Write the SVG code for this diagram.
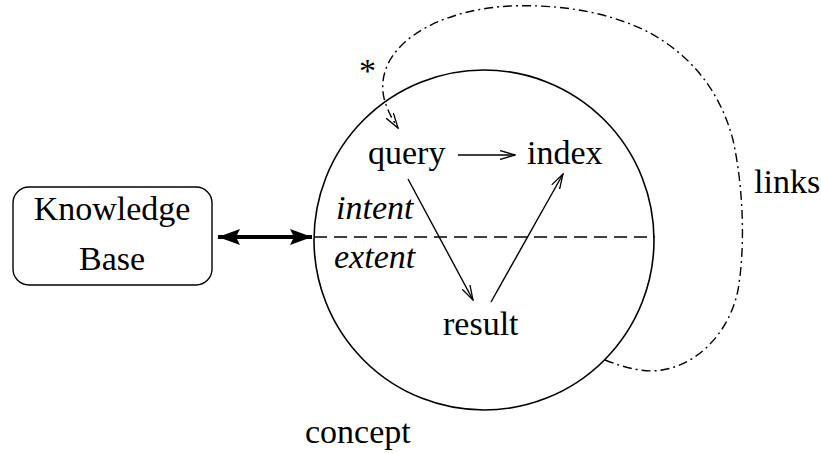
<svg xmlns="http://www.w3.org/2000/svg" width="821" height="453" viewBox="0 0 821 453">
<style>
.t{font-family:'Liberation Serif','Times New Roman',Times,'DejaVu Serif',serif;font-size:34px;fill:#000}
.it{font-style:italic}
.ln{fill:none;stroke:#000;stroke-width:1.4}
</style>
<defs>
<marker id="open" viewBox="0 0 16 10" refX="15" refY="5" markerWidth="16" markerHeight="10" markerUnits="userSpaceOnUse" orient="auto">
<path d="M0,0.5 L15,5 L0,9.5" fill="none" stroke="#000" stroke-width="1.3"/>
</marker>
<marker id="solid" viewBox="0 0 22 16" refX="22" refY="8" markerWidth="22" markerHeight="16" markerUnits="userSpaceOnUse" orient="auto-start-reverse">
<path d="M0,0 L22,8 L0,16 L4,8 Z" fill="#000"/>
</marker>
</defs>
<rect width="821" height="453" fill="#fff"/>
<g id="concept" font-family="Liberation Serif, serif">
<circle cx="484" cy="240" r="170" fill="none" stroke="#000" stroke-width="1.6"/>
<line x1="314" y1="237" x2="655" y2="237" stroke="#000" stroke-width="1.4" stroke-dasharray="13,7"/>
<text class="t" x="305" y="443">concept</text>
<text class="t it" x="336" y="219">intent</text>
<text class="t it" x="334" y="268">extent</text>
</g>
<g id="kb" font-family="Liberation Serif, serif">
<rect x="13" y="187" width="199" height="98" rx="16" fill="none" stroke="#000" stroke-width="1.4"/>
<text class="t" x="112" y="220" text-anchor="middle">Knowledge</text>
<text class="t" x="112" y="270" text-anchor="middle">Base</text>
</g>
<g id="query"><text class="t" x="368" y="164">query</text></g>
<g id="index"><text class="t" x="527" y="164">index</text></g>
<g id="result"><text class="t" x="443" y="335">result</text></g>
<g id="links"><text class="t" x="754" y="193">links</text></g>
<g id="star"><text class="t" x="359" y="82">*</text></g>
<g id="connectors">
<line x1="218" y1="237" x2="312" y2="237" stroke="#000" stroke-width="4" marker-start="url(#solid)" marker-end="url(#solid)"/>
<line class="ln" x1="458" y1="155" x2="515" y2="155" marker-end="url(#open)"/>
<line class="ln" x1="408" y1="179" x2="473" y2="300" marker-end="url(#open)"/>
<line class="ln" x1="491" y1="302" x2="563" y2="174" marker-end="url(#open)"/>
<path class="ln" stroke-dasharray="9,4,2,4" d="M605,360 C625,368 645,373 662,370 C700,364 730,330 738,290 C745,250 744,190 733,140 C720,90 690,55 650,33 C610,12 560,4 510,6 C470,8 430,20 405,42 C385,60 380,80 384,98 C387,110 392,119 398,128" marker-end="url(#open)"/>
</g>
</svg>
